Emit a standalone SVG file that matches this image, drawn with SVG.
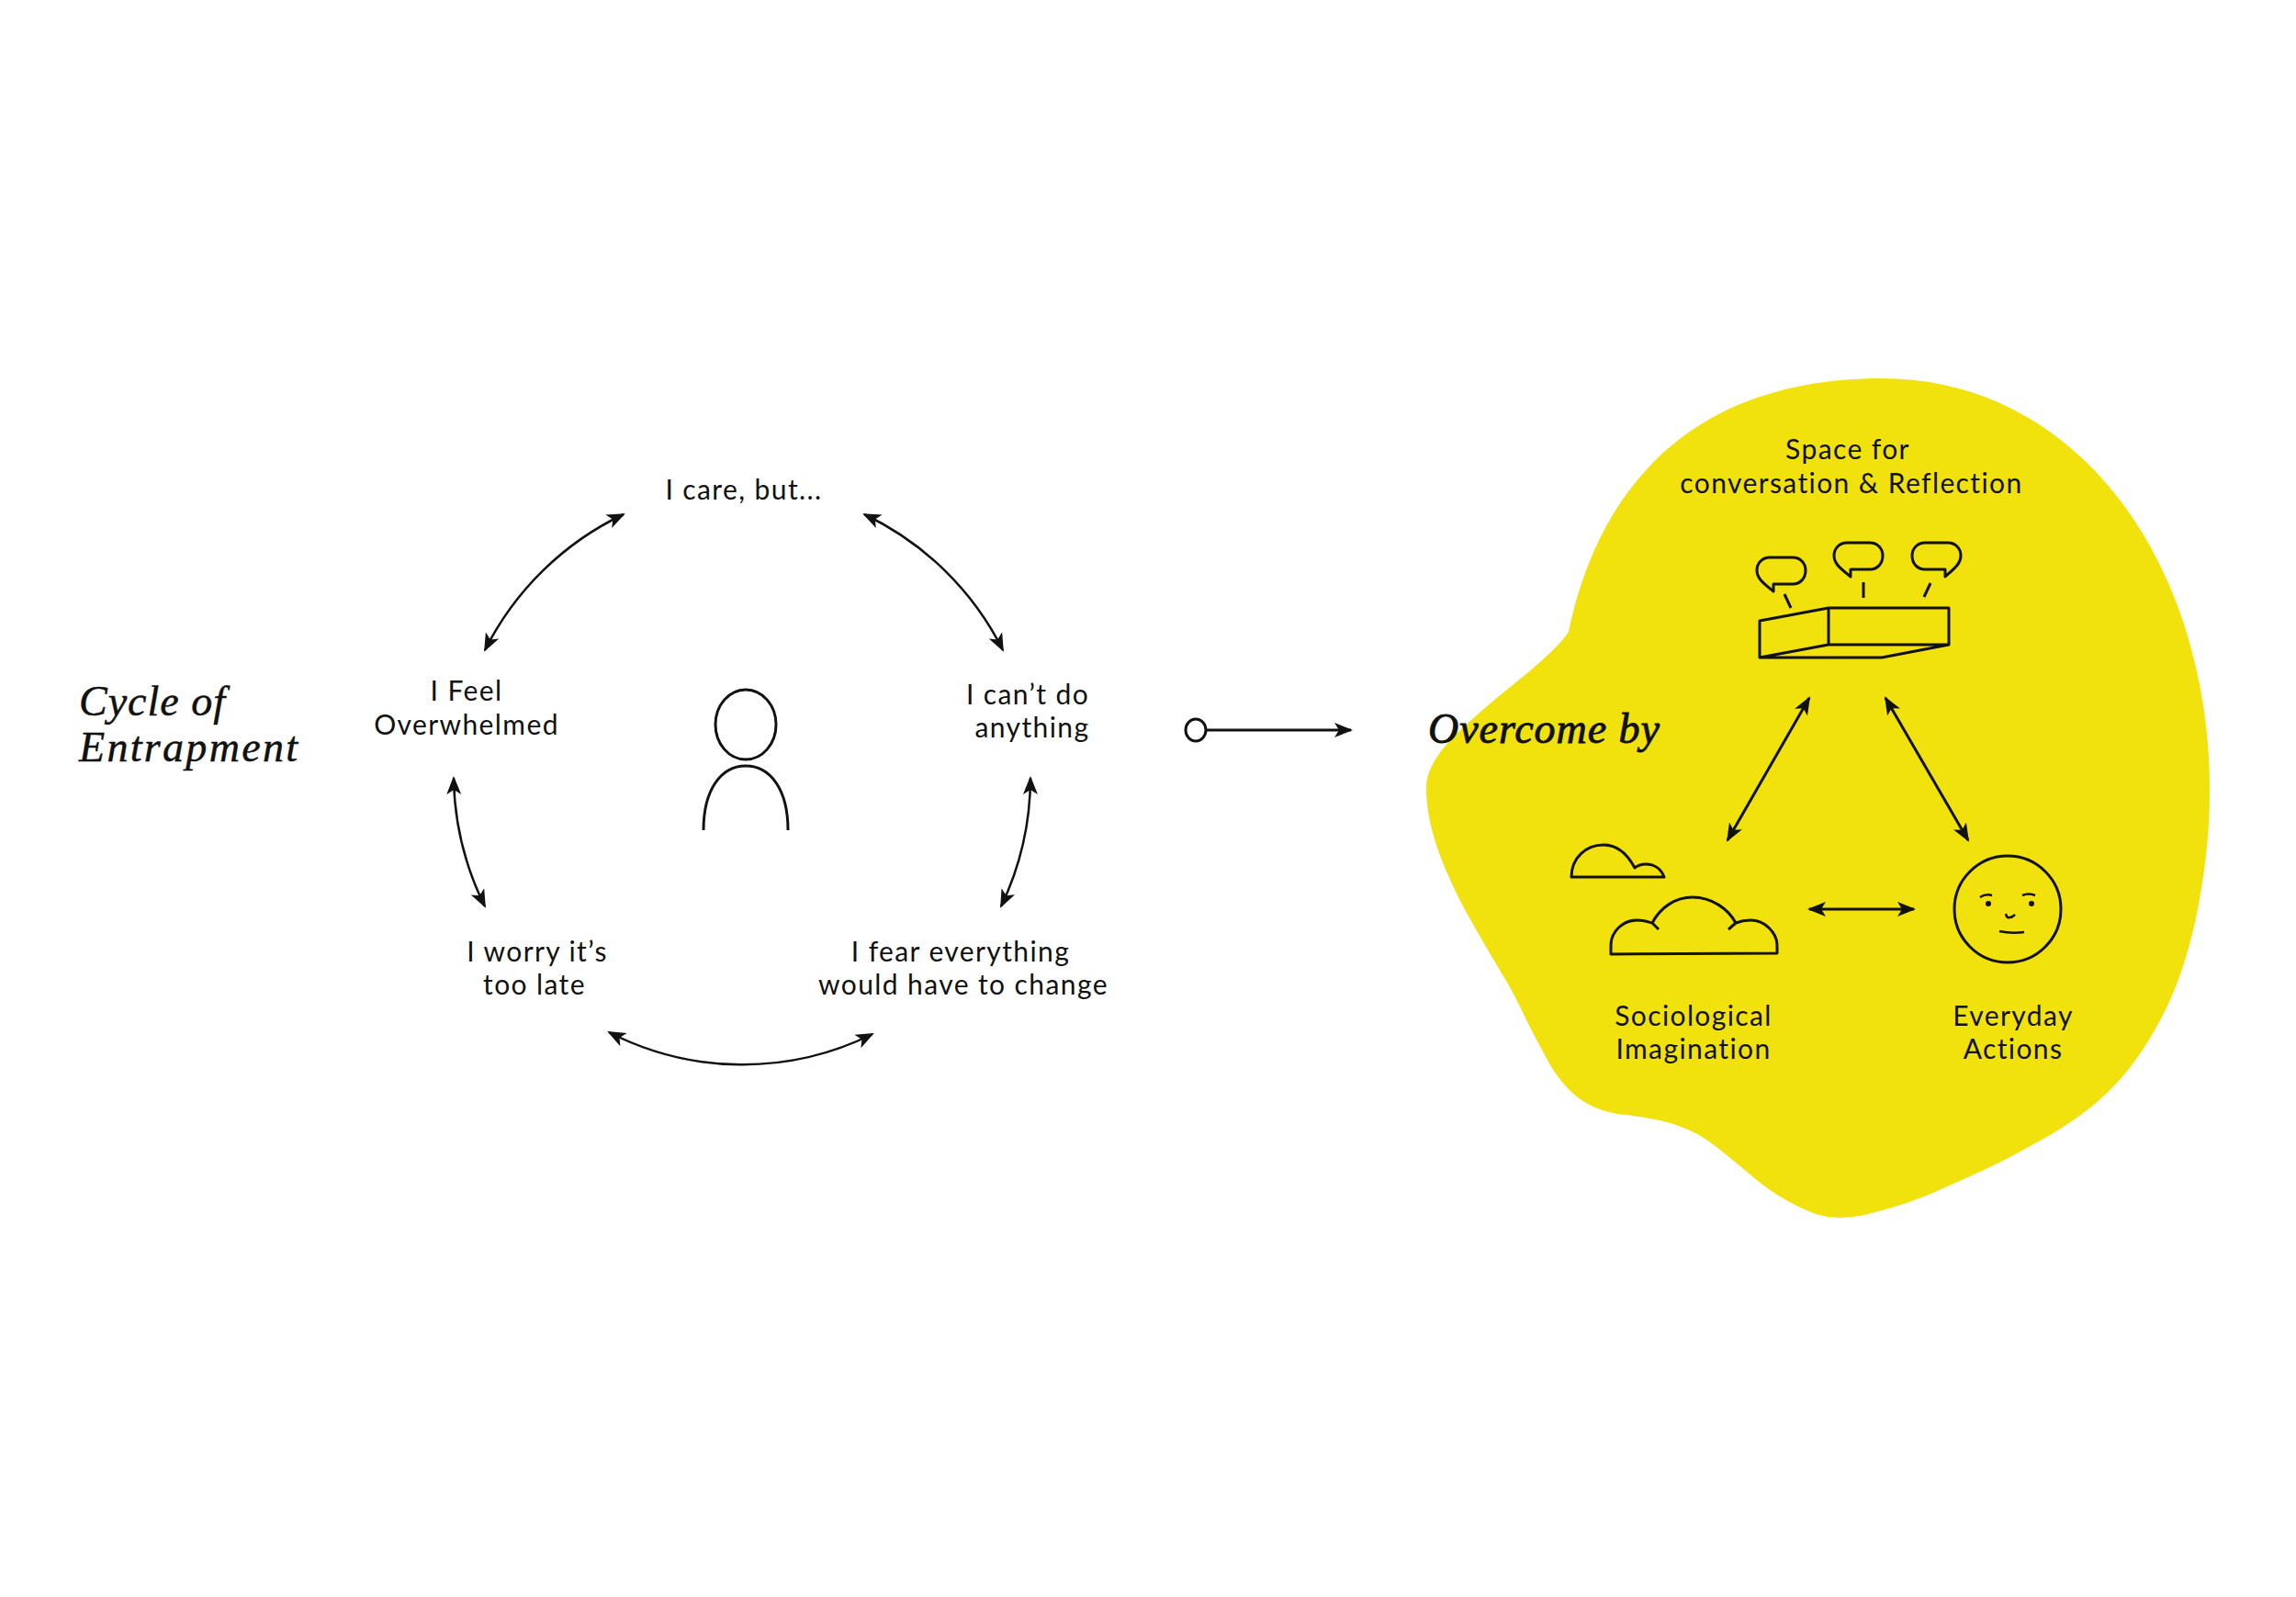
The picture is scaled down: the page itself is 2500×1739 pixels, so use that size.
<svg xmlns="http://www.w3.org/2000/svg" width="2500" height="1739" viewBox="0 0 2500 1739">
<style>
.t{font-family:"Lato","Liberation Sans",sans-serif;font-size:30px;fill:#111;text-anchor:middle;letter-spacing:1.4px}
.h{font-family:"Liberation Serif",serif;font-style:italic;font-size:46px;fill:#111;stroke:#111;stroke-width:.5}
.s{fill:none;stroke:#111;stroke-width:3;stroke-linejoin:round}
.c{fill:none;stroke:#111;stroke-width:2.5}
.m{fill:none;stroke:#111;stroke-width:3}
.a{marker-start:url(#ah);marker-end:url(#ah)}
</style>
<defs>
<marker id="ah" viewBox="0 0 20 18" refX="18" refY="9" markerWidth="20" markerHeight="18" markerUnits="userSpaceOnUse" orient="auto-start-reverse">
<path d="M0,1 L20,9 L0,17 L5,9 Z" fill="#111"/>
</marker>
</defs>
<rect width="2500" height="1739" fill="#fff"/>
<path id="blob" fill="#f1e20e" d="M1708,688 C1738,542 1833,412 2049,412 C2263,412 2406,614 2406,861 C2406,915 2399,960 2391,1000 C2380,1050 2365,1090 2347,1120 C2325,1160 2300,1188 2271,1210 C2245,1230 2220,1243 2194,1257 C2170,1270 2145,1281 2118,1293 C2090,1306 2060,1316 2034,1322 C2022,1325 2012,1326 2003,1326 C1990,1326 1978,1323 1965,1317 C1945,1308 1925,1296 1907,1280 C1890,1266 1875,1253 1861,1243 C1835,1224 1800,1217 1770,1214 C1725,1210 1700,1185 1680,1145 C1665,1118 1655,1095 1643,1073 C1620,1035 1600,1000 1590,981 C1575,950 1553,905 1553,858 C1553,825 1590,795 1610,777 C1640,750 1690,715 1708,688 Z"/>
<g id="connectors">
<path class="c a" d="M679,560 A325,325 0 0 0 528,708"/>
<path class="c a" d="M941,560 A325,325 0 0 1 1092,708"/>
<path class="c a" d="M1122,847 A325,325 0 0 1 1090,987"/>
<path class="c a" d="M950,1126 A318,318 0 0 1 663,1124"/>
<path class="c a" d="M528,987 A325,325 0 0 1 494,847"/>
<path class="m" style="marker-end:url(#ah)" d="M1314,795 L1471,795"/>
<ellipse class="s" cx="1302" cy="795" rx="11" ry="12"/>
<path class="m a" d="M1970,760 L1881,915"/>
<path class="m a" d="M2053,760 L2143,915"/>
<path class="m a" d="M1970,990 L2084,990"/>
</g>
<g id="person">
<ellipse class="s" cx="812" cy="789" rx="33" ry="38"/>
<path class="s" d="M766,904 C766,860 785,834 812,834 C839,834 858,860 858,904"/>
</g>
<g id="title-cycle">
<text class="h" x="86" y="779" textLength="159">Cycle of</text>
<text class="h" x="86" y="829" textLength="238">Entrapment</text>
</g>
<g id="title-overcome">
<text class="h" x="1555" y="809" textLength="252" style="stroke-width:.9">Overcome by</text>
</g>
<g id="node-care"><text class="t" x="810" y="544">I care, but...</text></g>
<g id="node-overwhelmed"><text class="t" x="508" y="763">I Feel</text><text class="t" x="508" y="800">Overwhelmed</text></g>
<g id="node-cant"><text class="t" x="1119" y="767">I can’t do</text><text class="t" x="1124" y="803">anything</text></g>
<g id="node-fear"><text class="t" x="1046" y="1047">I fear everything</text><text class="t" x="1049" y="1083">would have to change</text></g>
<g id="node-worry"><text class="t" x="585" y="1047">I worry it’s</text><text class="t" x="582" y="1083">too late</text></g>
<g id="node-space">
<text class="t" x="2012" y="500">Space for</text><text class="t" x="2016" y="537">conversation &amp; Reflection</text>
<path class="s" d="M1916,676 L1991,662 L2122,662 L2122,702 L1991,702 L1916,716 Z M1991,662 L1991,702 M1916,716 L2049,716 L2122,702"/>
<path class="s" d="M1931,644 L1931,636 L1952,636 C1960,636 1966,630 1966,621 C1966,613 1960,607 1952,607 L1927,607 C1919,607 1913,613 1913,621 C1913,630 1920,635 1931,644 Z"/>
<path class="s" d="M2015,628 L2015,620 L2036,620 C2044,620 2050,614 2050,605 C2050,597 2044,591 2036,591 L2011,591 C2003,591 1997,597 1997,605 C1997,614 2004,619 2015,628 Z"/>
<path class="s" d="M2118,628 L2118,620 L2096,620 C2088,620 2082,614 2082,605 C2082,597 2088,591 2096,591 L2121,591 C2129,591 2135,597 2135,605 C2135,614 2128,619 2118,628 Z"/>
<path class="s" d="M1943,647 L1950,662 M2029,634 L2029,651 M2102,635 L2095,650"/>
</g>
<g id="node-imagination">
<path class="s" d="M1711,955 C1711,934 1727,920 1746,920 C1762,920 1773,932 1780,945 C1785,941 1789,941 1792,941 C1802,941 1809,947 1812,955 Z"/>
<path class="s" d="M1754,1039 L1754,1030 C1754,1014 1767,1002 1783,1002 C1789,1002 1795,1004 1799,1005 C1808,988 1824,977 1843,977 C1864,977 1882,990 1890,1005 C1895,1003 1900,1002 1906,1002 C1922,1002 1935,1016 1935,1030 L1935,1038 Z M1799,1005 L1806,1012 M1890,1005 L1882,1012"/>
<text class="t" x="1844" y="1117">Sociological</text><text class="t" x="1844" y="1153">Imagination</text>
</g>
<g id="node-everyday">
<ellipse class="s" cx="2186" cy="990" rx="58" ry="58"/>
<circle cx="2165" cy="984" r="3" fill="#111"/><circle cx="2212" cy="984" r="3" fill="#111"/>
<path class="c" d="M2156,977 Q2162,973 2169,975 M2202,975 Q2209,972 2216,975 M2184,995 Q2185,1000 2188,999 Q2191,999 2194,996 M2177,1014 Q2190,1017 2204,1015"/>
<text class="t" x="2192" y="1117">Everyday</text><text class="t" x="2192" y="1153">Actions</text>
</g>
</svg>
